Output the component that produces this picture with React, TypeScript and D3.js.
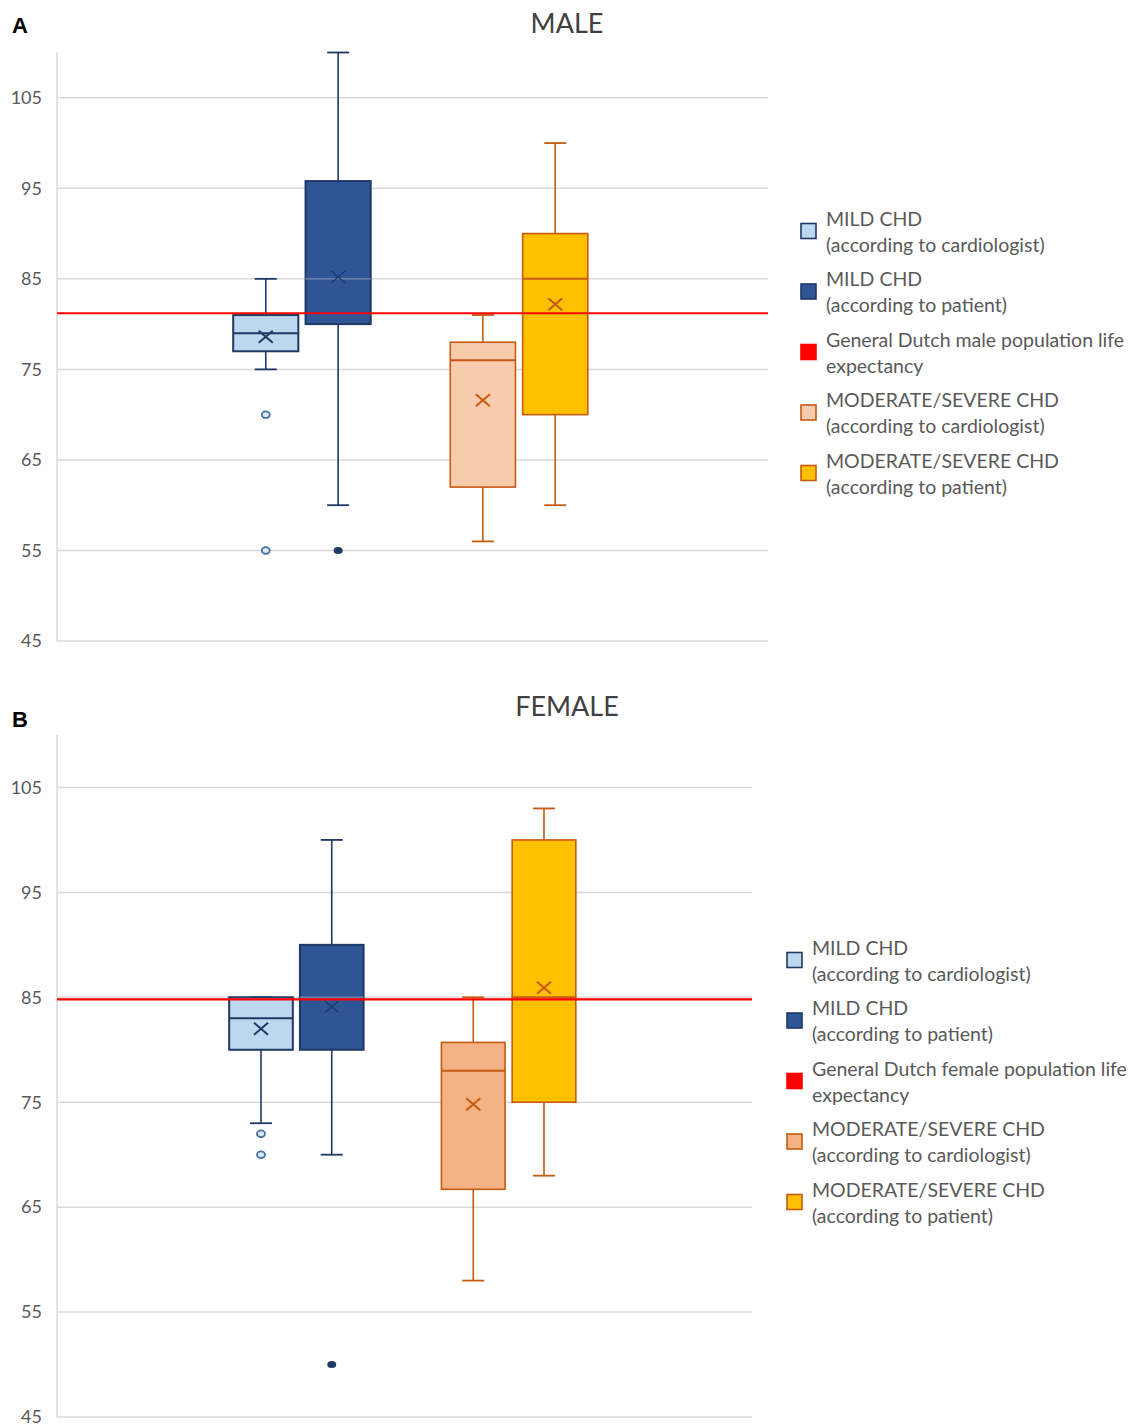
import React from "react";
import * as d3 from "d3";

// ---------- DATA ----------
const seriesKeys = ["mildCardio", "mildPatient", "gap", "modCardio", "modPatient"];
const boxKeys = ["mildCardio", "mildPatient", "modCardio", "modPatient"];
const yTicks = [45, 55, 65, 75, 85, 95, 105];

// MALE
const maleMin = [75, 60, 56, 60];
const maleQ1 = [77, 80, 62, 70];
const maleMedian = [79, 85, 76, 85];
const maleQ3 = [81, 95.8, 78, 90];
const maleMax = [85, 110, 81, 100];
const maleMean = [78.6, 85.2, 71.6, 82.2];
const maleOutliers = [[70, 55], [55], [], []];
const maleLifeExpectancy = 81.2;

// FEMALE
const femaleMin = [73, 70, 58, 68];
const femaleQ1 = [80, 80, 66.7, 75];
const femaleMedian = [83, 85, 78, 85];
const femaleQ3 = [85, 90, 80.7, 100];
const femaleMax = [85, 100, 85, 103];
const femaleMean = [82, 84.1, 74.8, 85.9];
const femaleOutliers = [[72, 70], [50], [], []];
const femaleLifeExpectancy = 84.8;

const legendMale = [
  ["MILD CHD", "(according to cardiologist)"],
  ["MILD CHD", "(according to patient)"],
  ["General Dutch male population life", "expectancy"],
  ["MODERATE/SEVERE CHD", "(according to cardiologist)"],
  ["MODERATE/SEVERE CHD", "(according to patient)"],
];
const legendFemale = [
  ["MILD CHD", "(according to cardiologist)"],
  ["MILD CHD", "(according to patient)"],
  ["General Dutch female population life", "expectancy"],
  ["MODERATE/SEVERE CHD", "(according to cardiologist)"],
  ["MODERATE/SEVERE CHD", "(according to patient)"],
];

// ---------- STYLE ----------
const NAVY = "#1f3864";
const ORANGE = "#c55a11";
const RED = "#ff0000";
const GRID = "#d9d9d9";
const TEXT = "#595959";
const FONT = "Lato, 'Open Sans', sans-serif";

type Panel = {
  title: string;
  letter: string;
  min: number[]; q1: number[]; med: number[]; q3: number[]; max: number[]; mean: number[];
  outliers: number[][];
  life: number;
  legend: string[][];
  fills: string[];
  top: number; bottom: number; right: number;
  legendX: number; legendY: number;
  titleY: number; letterY: number;
};

const panels: Panel[] = [
  {
    title: "MALE", letter: "A",
    min: maleMin, q1: maleQ1, med: maleMedian, q3: maleQ3, max: maleMax, mean: maleMean,
    outliers: maleOutliers, life: maleLifeExpectancy, legend: legendMale,
    fills: ["#bdd7ee", "#2f5597", "#f8cbad", "#ffc000"],
    top: 52.5, bottom: 641, right: 768,
    legendX: 800, legendY: 231, titleY: 33, letterY: 33,
  },
  {
    title: "FEMALE", letter: "B",
    min: femaleMin, q1: femaleQ1, med: femaleMedian, q3: femaleQ3, max: femaleMax, mean: femaleMean,
    outliers: femaleOutliers, life: femaleLifeExpectancy, legend: legendFemale,
    fills: ["#bdd7ee", "#2f5597", "#f4b183", "#ffc000"],
    top: 735, bottom: 1417, right: 752,
    legendX: 786, legendY: 960, titleY: 716, letterY: 727,
  },
];

const strokes = [NAVY, NAVY, ORANGE, ORANGE];
const meanColors = [NAVY, "#1f3864", ORANGE, ORANGE];
const medianColors = [NAVY, "#6a83ad", ORANGE, ORANGE];

function PanelChart({ p }: { p: Panel }) {
  const left = 57;
  const y = d3.scaleLinear().domain([45, 110]).range([p.bottom, p.top]);
  const x = d3.scaleBand().domain(seriesKeys).range([left - 4, p.right]).paddingInner(0.1).paddingOuter(2.49);
  const bw = x.bandwidth();
  const cap = 22;
  const legendFills = [p.fills[0], p.fills[1], RED, p.fills[2], p.fills[3]];
  const legendStrokes = [NAVY, NAVY, RED, ORANGE, ORANGE];
  return (
    <g>
      <text x={12} y={p.letterY} fontFamily="Arial, 'Liberation Sans', sans-serif" fontWeight="bold" fontSize={22} fill="#000">{p.letter}</text>
      <text x={567} y={p.titleY} textAnchor="middle" fontFamily={FONT} fontSize={27} fill="#404040">{p.title}</text>
      {/* grid */}
      {yTicks.map((t) => (
        <g key={t}>
          <line x1={left} x2={p.right} y1={y(t)} y2={y(t)} stroke={GRID} strokeWidth={1.5} />
          <text x={42} y={y(t)} dy="0.35em" textAnchor="end" fontFamily={FONT} fontSize={18} fill={TEXT}>{t}</text>
        </g>
      ))}
      <line x1={left} x2={left} y1={p.top} y2={p.bottom} stroke={GRID} strokeWidth={1.5} />
      {/* boxes */}
      {boxKeys.map((k, i) => {
        const x0 = x(k)!;
        const cx = x0 + bw / 2;
        const s = strokes[i];
        const sw = i < 2 ? 2 : 1.6;
        const mx = cx, my = y(p.mean[i]);
        return (
          <g key={k}>
            <line x1={cx} x2={cx} y1={y(p.max[i])} y2={y(p.q3[i])} stroke={s} strokeWidth={1.6} />
            <line x1={cx} x2={cx} y1={y(p.q1[i])} y2={y(p.min[i])} stroke={s} strokeWidth={1.6} />
            <line x1={cx - cap / 2} x2={cx + cap / 2} y1={y(p.max[i])} y2={y(p.max[i])} stroke={s} strokeWidth={1.8} />
            <line x1={cx - cap / 2} x2={cx + cap / 2} y1={y(p.min[i])} y2={y(p.min[i])} stroke={s} strokeWidth={1.8} />
            <rect x={x0} y={y(p.q3[i])} width={bw} height={y(p.q1[i]) - y(p.q3[i])} fill={p.fills[i]} stroke={s} strokeWidth={sw} />
            <line x1={x0} x2={x0 + bw} y1={y(p.med[i])} y2={y(p.med[i])} stroke={medianColors[i]} strokeWidth={i === 1 ? 1.5 : 2} />
            <path d={`M${mx - 7},${my - 6}L${mx + 7},${my + 6}M${mx - 7},${my + 6}L${mx + 7},${my - 6}`} stroke={meanColors[i]} strokeWidth={i === 1 ? 1.3 : 2} fill="none" />
            {p.outliers[i].map((o, j) =>
              i === 1 ? (
                <ellipse key={j} cx={cx} cy={y(o)} rx={4.5} ry={3.5} fill={NAVY} />
              ) : (
                <ellipse key={j} cx={cx} cy={y(o)} rx={4} ry={3.3} fill="#dbe7f4" stroke="#41719c" strokeWidth={1.8} />
              )
            )}
          </g>
        );
      })}
      {/* life expectancy */}
      <line x1={left} x2={p.right} y1={y(p.life)} y2={y(p.life)} stroke={RED} strokeWidth={2.2} />
      {/* legend */}
      {p.legend.map((lines, i) => {
        const cy = p.legendY + i * 60.5;
        return (
          <g key={i}>
            <rect x={p.legendX + 1} y={cy - 7.5} width={15} height={15} fill={legendFills[i]} stroke={legendStrokes[i]} strokeWidth={1.6} />
            <text x={p.legendX + 26} y={cy - 12} dy="0.35em" fontFamily={FONT} fontSize={19.5} fill={TEXT}>{lines[0]}</text>
            <text x={p.legendX + 26} y={cy + 14} dy="0.35em" fontFamily={FONT} fontSize={19.5} fill={TEXT}>{lines[1]}</text>
          </g>
        );
      })}
    </g>
  );
}

export default function App() {
  return (
    <svg width={1131} height={1427} style={{ position: "absolute", left: 0, top: 0, background: "#fff" }}>
      <rect x={0} y={0} width={1131} height={1427} fill="#fff" />
      {panels.map((p) => (
        <PanelChart key={p.letter} p={p} />
      ))}
    </svg>
  );
}
